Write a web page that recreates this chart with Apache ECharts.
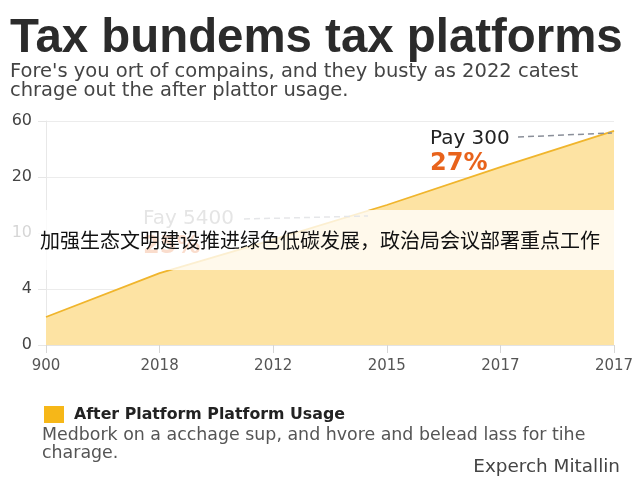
<!DOCTYPE html>
<html><head><meta charset="utf-8">
<script src="https://cdn.jsdelivr.net/npm/echarts@6/dist/echarts.min.js"></script>
<style>html,body{margin:0;padding:0;background:#fff}#c{width:640px;height:480px}</style>
</head><body><div id="c"></div>
<script>
var categories = ['900', '2018', '2012', '2015', '2017', '2017'];
var yTickLabels = [0, 4, 10, 20, 60];
var usageValues = [2, 5.7, 9.3, 15, 27, 53];
var seriesName = 'After Platform Platform Usage';

// the y axis has evenly spaced, non-linear ticks: place values between them
function level(v) {
  for (var i = 0; i < yTickLabels.length - 1; i++) {
    var a = yTickLabels[i], b = yTickLabels[i + 1];
    if (v <= b) return i + (v - a) / (b - a);
  }
  return yTickLabels.length - 1;
}

var chart = echarts.init(document.getElementById('c'), null, {renderer: 'canvas'});
var F = 'Liberation Sans, Arial, sans-serif';
var D = '"DejaVu Sans", sans-serif';
chart.setOption({
  animation: false,
  grid: {left: 46, right: 26, top: 121, bottom: 135},
  xAxis: {
    type: 'category', data: categories, boundaryGap: false,
    axisLine: {show: true, lineStyle: {color: '#e3e3e3'}},
    axisTick: {show: true, length: 8, lineStyle: {color: '#d6d6d6'}},
    axisLabel: {color: '#555', fontSize: 15, fontFamily: D, margin: 14},
    splitLine: {show: false}
  },
  yAxis: {
    type: 'value', min: 0, max: 4, interval: 1,
    axisLine: {show: true, lineStyle: {color: '#e8e8e8'}},
    axisTick: {show: true, length: 8, lineStyle: {color: '#e6e6e6'}},
    axisLabel: {color: '#444', fontSize: 16, fontFamily: D, margin: 14,
      formatter: function (v) { return String(yTickLabels[v]); }},
    splitLine: {show: true, lineStyle: {color: '#ececec'}}
  },
  legend: {
    show: true, left: 39, top: 401, icon: 'rect', itemWidth: 20, itemHeight: 17, itemGap: 10,
    textStyle: {color: '#222', fontSize: 15.8, fontWeight: 'bold', fontFamily: D, padding: [0, 0, 0, 5]},
    data: [seriesName]
  },
  series: [{
    name: seriesName, type: 'line', symbol: 'none',
    data: usageValues.map(level),
    lineStyle: {color: '#f0b52c', width: 1.8},
    itemStyle: {color: '#f6b718'},
    areaStyle: {color: '#fde3a3', opacity: 1},
    z: 2
  }],
  graphic: [
    {type: 'text', left: 10, top: 15, z: 10, style: {text: 'Tax bundems tax platforms', fill: '#2b2b2b', font: 'bold 47.4px ' + F}},
    {type: 'text', left: 10, top: 62, z: 10, style: {text: "Fore's you ort of compains, and they busty as 2022 catest\nchrage out the after plattor usage.", fill: '#444', font: '19.5px ' + D, lineHeight: 19}},
    {type: 'text', left: 430, top: 129, z: 10, style: {text: 'Pay 300', fill: '#222', font: '20px ' + D}},
    {type: 'line', z: 10, shape: {x1: 518, y1: 137, x2: 612, y2: 133}, style: {stroke: '#8a8f99', lineWidth: 1.5, lineDash: [6, 4]}},
    {type: 'text', left: 430, top: 152, z: 10, style: {text: '27%', fill: '#e8631c', font: 'bold 24px ' + D}},
    {type: 'text', left: 143, top: 209, z: 10, style: {text: 'Fay 5400', fill: '#888', font: '20px ' + D}},
    {type: 'line', z: 10, shape: {x1: 244, y1: 219, x2: 368, y2: 216}, style: {stroke: '#8a8f99', lineWidth: 1.5, lineDash: [6, 4]}},
    {type: 'text', left: 143, top: 235, z: 10, style: {text: '25%', fill: '#e8631c', font: 'bold 24px ' + D}},
    {type: 'rect', z: 20, shape: {x: 0, y: 210, width: 614, height: 60}, style: {fill: 'rgba(255,255,255,0.78)'}},
    {type: 'text', left: 40, top: 230, z: 21, style: {text: '加强生态文明建设推进绿色低碳发展，政治局会议部署重点工作', fill: '#111', font: '20px "Noto Sans CJK SC", sans-serif'}},
    {type: 'text', left: 42, top: 426, z: 10, style: {text: 'Medbork on a acchage sup, and hvore and belead lass for tihe\ncharage.', fill: '#555', font: '17.4px ' + D, lineHeight: 18}},
    {type: 'text', right: 20, top: 458, z: 10, style: {text: 'Experch Mitallin', fill: '#444', font: '18.4px ' + D}}
  ]
});
</script></body></html>
